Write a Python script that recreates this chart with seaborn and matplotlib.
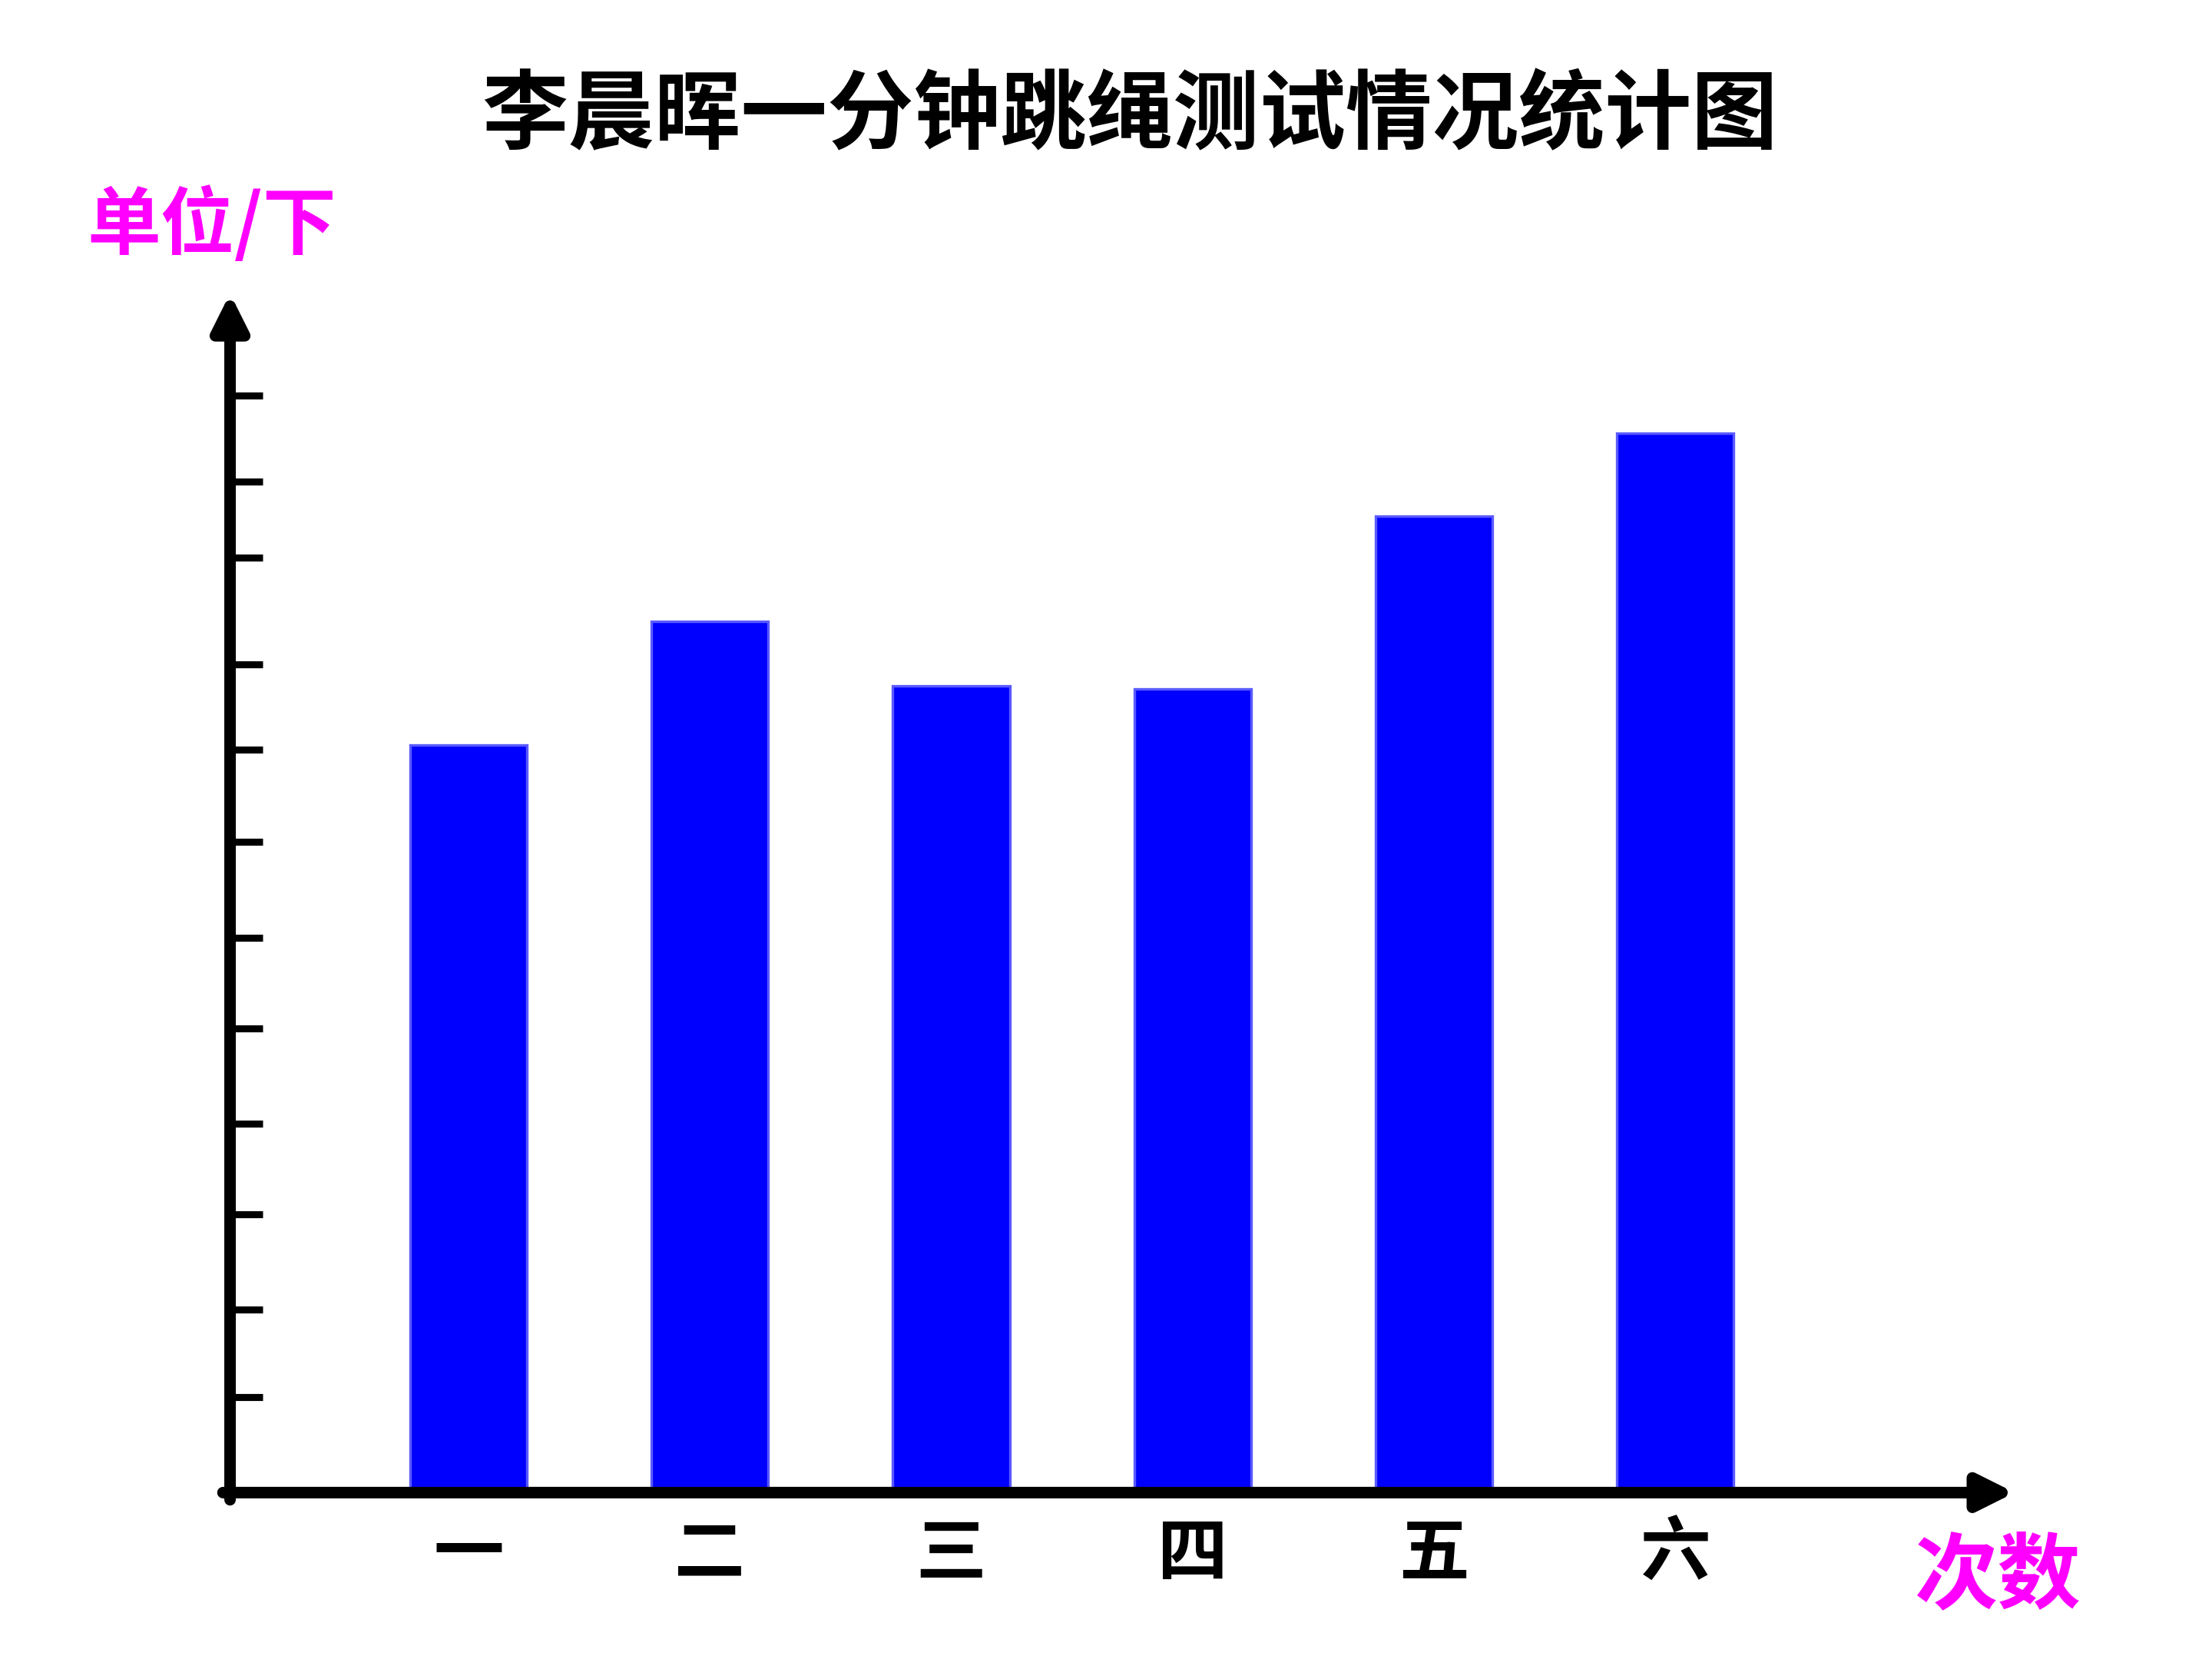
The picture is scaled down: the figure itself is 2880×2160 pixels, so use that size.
import matplotlib
matplotlib.use("Agg")
import matplotlib.pyplot as plt
import seaborn as sns
import pandas as pd

# ---- data ----
categories = ["一", "二", "三", "四", "五", "六"]
jumps = [81.2, 94.6, 87.6, 87.3, 106.0, 115.0]
# hand-drawn, slightly irregular tick marks on the vertical axis
tick_positions = [10.4, 19.9, 30.2, 40.1, 50.4, 60.2, 70.7, 80.7, 89.9, 101.5, 109.8, 119.1]
title = "李晨晖一分钟跳绳测试情况统计图"
y_unit = "单位/下"
x_unit = "次数"

sns.set_theme(style="white")
plt.rcParams["font.family"] = ["Noto Sans CJK SC", "DejaVu Sans"]

fig = plt.figure(figsize=(9.6, 7.2), dpi=300)
fig.patch.set_facecolor("white")
ax = fig.add_axes([0.1040, 0.1003, 0.8068, 0.7228])
ax.set_facecolor("white")

df = pd.DataFrame({"次": categories, "下": jumps})
sns.barplot(data=df, x="次", y="下", order=categories, color="#0000FF",
            saturation=1, width=0.485, edgecolor="#5A5AFF", linewidth=0.8,
            ax=ax, zorder=2)

ax.set_xlim(-0.988, 6.406)
ax.set_ylim(0, 130.2)
for s in ax.spines.values():
    s.set_visible(False)
ax.set_xlabel("")
ax.set_ylabel("")

ax.set_yticks(tick_positions)
ax.set_yticklabels([])
ax.tick_params(axis="y", direction="in", length=10, width=2.2, color="black", left=True)
ax.tick_params(axis="x", length=0, pad=8)
for lab in ax.get_xticklabels():
    lab.set_fontsize(22)
    lab.set_fontweight("bold")
    lab.set_color("black")

arrow = dict(arrowstyle="-|>,head_length=0.4,head_width=0.2", lw=3.6,
             color="black", shrinkA=0, shrinkB=0, mutation_scale=23)
ax.annotate("", xy=(0, 1), xytext=(0, -0.006), xycoords="axes fraction",
            arrowprops=arrow, zorder=5, annotation_clip=False)
ax.annotate("", xy=(1, 0), xytext=(-0.004, 0), xycoords="axes fraction",
            arrowprops=arrow, zorder=5, annotation_clip=False)

fig.text(801 / 1568, 1 - 83 / 1176, title, ha="center", va="center",
         fontsize=27, fontweight="bold", color="black")
fig.text(62 / 1568, 1 - 160 / 1176, y_unit, ha="left", va="center",
         fontsize=23, fontweight="bold", color="#FF00FF")
fig.text(1357 / 1568, 1 - 1118 / 1176, x_unit, ha="left", va="center",
         fontsize=26, fontweight="bold", color="#FF00FF")

fig.savefig("out.png", dpi=300, facecolor="white")
